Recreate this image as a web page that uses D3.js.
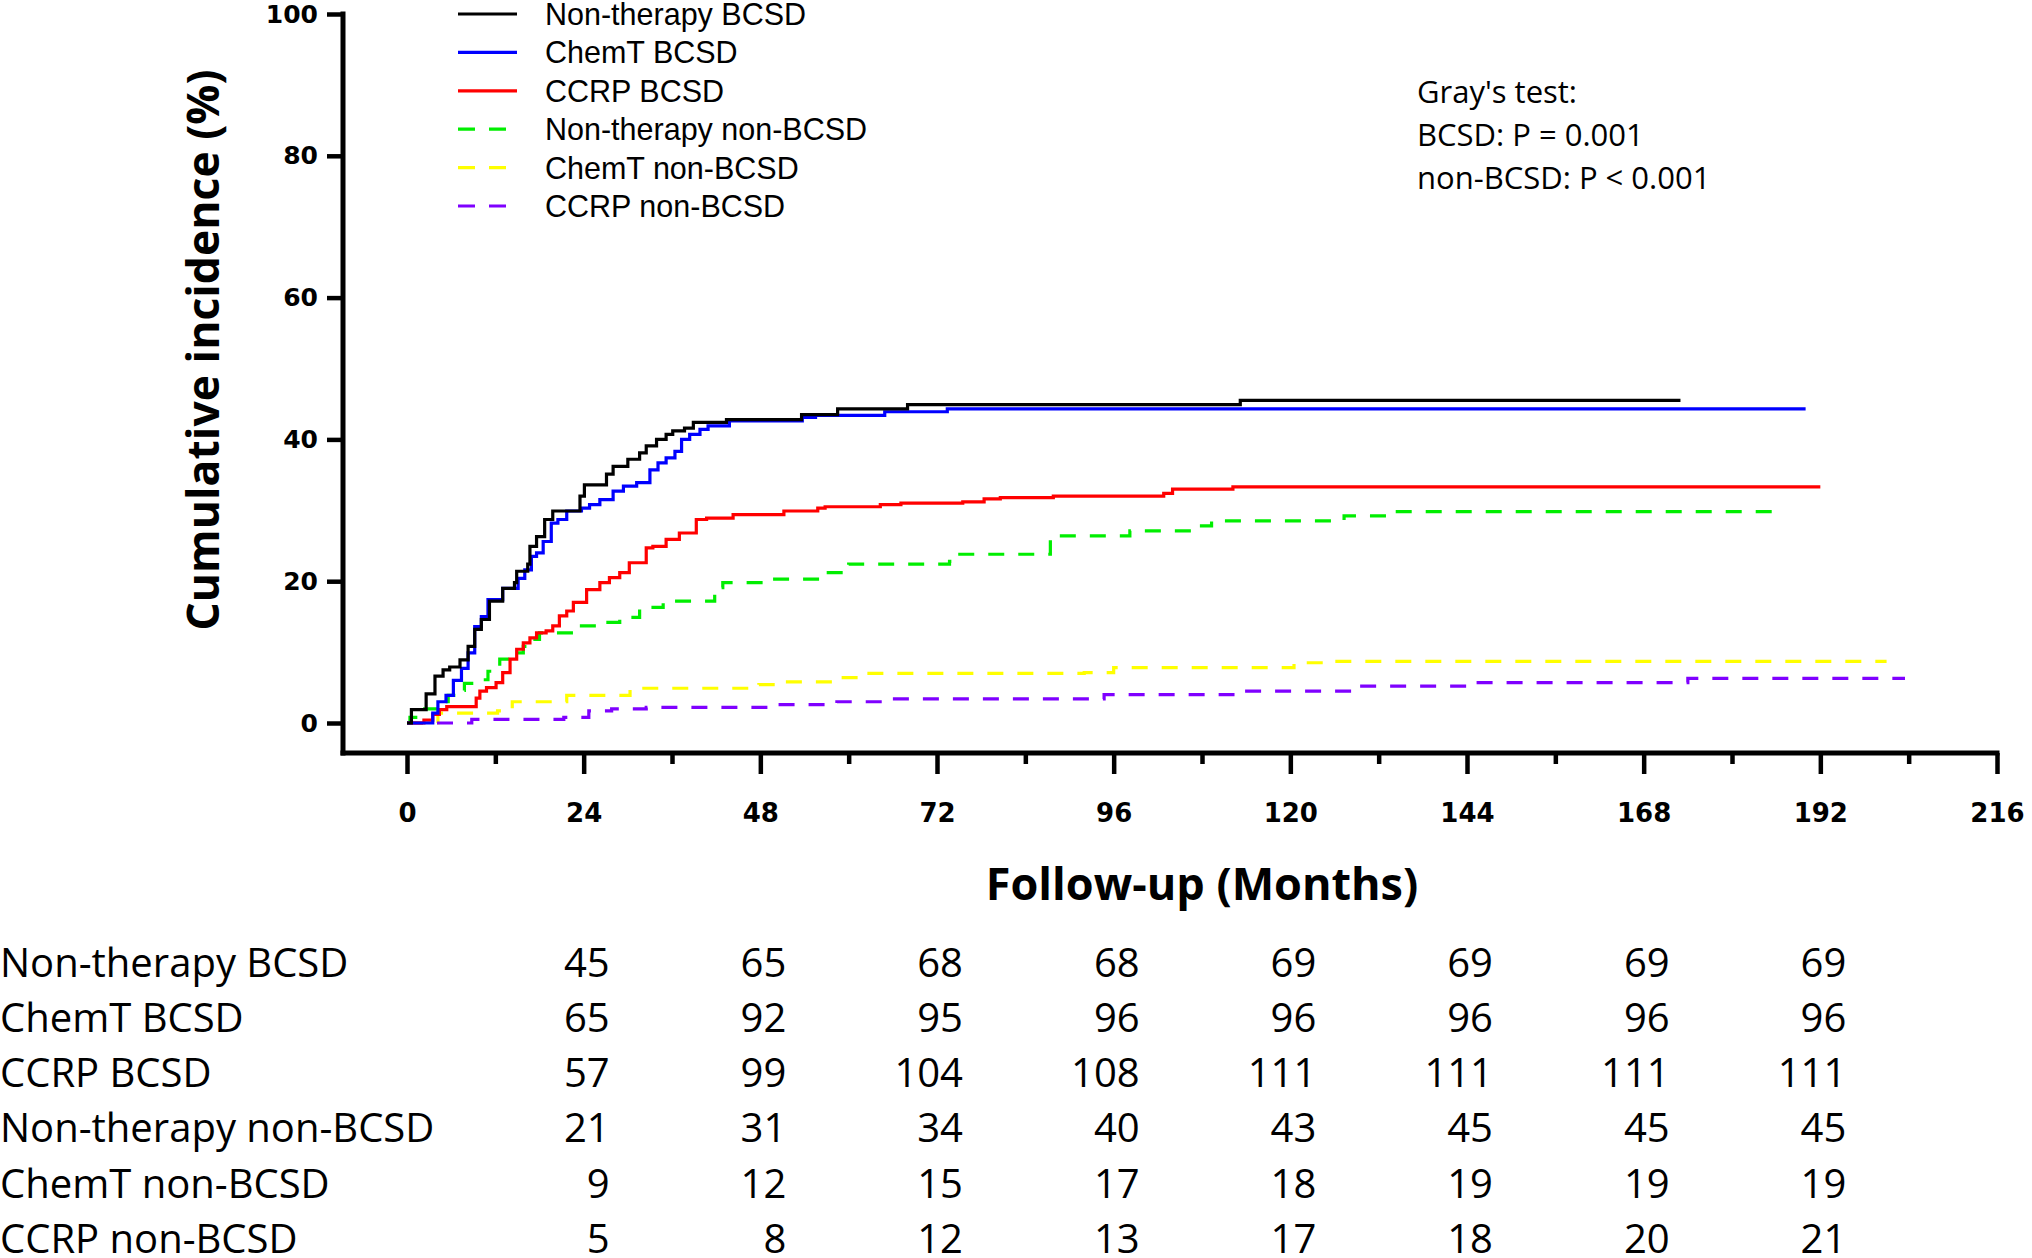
<!DOCTYPE html>
<html>
<head>
<meta charset="utf-8">
<script src="https://cdn.jsdelivr.net/npm/d3@7"></script>
<style>
  body { margin: 0; background: #fff; }
  svg { display: block; }
</style>
</head>
<body>
<div id="chart"></div>
<script>
// Cumulative incidence curves, [month, percent] step points
const nonTherapyBCSD = [[0,0],[0.6,1.9],[2.6,4.1],[3.8,6.6],[4.9,7.5],[5.8,7.9],[7.2,8.9],[8.3,10.8],[9.2,13.2],[10.1,14.6],[11.2,17.2],[13.0,19.0],[14.6,19.8],[14.9,21.4],[16.4,22.4],[16.7,24.9],[17.6,26.3],[18.7,28.7],[19.8,29.9],[23.5,32.0],[24.1,33.6],[27.1,35.1],[28.0,36.2],[30.0,37.2],[31.6,38.1],[32.5,39.1],[33.9,40.0],[35.2,40.7],[36.1,41.2],[37.7,41.6],[38.9,42.4],[43.4,42.8],[53.6,43.5],[58.5,44.3],[68.0,44.9],[113.2,45.5],[173,45.5]];
const chemTBCSD = [[0,0],[3.5,1.4],[4.2,3.0],[5.3,3.9],[6.3,6.0],[7.4,7.7],[8.3,9.9],[9.2,13.6],[10.1,15.0],[11.0,17.4],[13.0,19.0],[15.1,20.4],[16.0,21.6],[16.9,23.5],[17.6,24.0],[18.5,25.6],[19.6,28.2],[20.5,28.7],[21.7,29.9],[23.7,30.3],[24.8,30.8],[26.2,31.5],[28.0,32.7],[29.4,33.4],[31.2,33.9],[33.0,35.7],[34.1,36.7],[35.2,37.4],[36.4,38.3],[37.3,40.0],[38.4,40.7],[39.8,41.4],[40.9,41.9],[43.8,42.6],[53.7,43.1],[55.5,43.4],[64.9,43.9],[73.4,44.3],[190,44.3]];
const ccrpBCSD = [[0,0],[2.3,0.4],[3.5,1.2],[4.4,1.9],[5.4,2.3],[9.4,3.5],[9.9,4.5],[10.8,5.0],[12.1,5.7],[13.0,7.1],[14.0,9.0],[14.9,10.4],[15.8,11.3],[16.7,12.0],[17.6,12.7],[18.9,13.0],[19.8,13.7],[20.7,15.1],[21.7,15.8],[22.6,17.0],[24.4,18.8],[26.2,19.8],[27.5,20.5],[28.9,21.2],[30.2,22.6],[32.5,24.7],[33.4,24.9],[35.2,25.9],[37.0,26.8],[39.3,28.7],[40.7,28.9],[44.3,29.4],[51.2,29.9],[55.8,30.3],[56.8,30.5],[64.3,30.8],[67.1,31.0],[75.5,31.2],[78.4,31.6],[80.6,31.8],[87.8,32.0],[102.8,32.4],[104,33.0],[112.2,33.3],[192,33.3]];
const nonTherapyNonBCSD = [[0,0],[0.4,0.8],[2.4,2.0],[4.2,3.0],[5.6,3.9],[6.7,4.6],[7.8,5.6],[9.4,6.1],[11.0,7.3],[12.6,9.0],[14.0,9.9],[15.8,10.8],[16.7,11.8],[18.0,12.7],[22.6,13.0],[23.7,13.7],[26.2,14.2],[28.9,14.9],[31.6,16.3],[34.8,17.2],[41.8,19.1],[42.9,19.8],[49.0,20.3],[56.9,21.2],[60.0,22.4],[73.7,22.8],[75.1,23.8],[87.4,26.4],[98.2,27.1],[106.5,27.8],[109.3,28.5],[127.3,29.2],[133.7,29.8],[185.5,29.8]];
const chemTNonBCSD = [[0,0],[4.2,1.4],[12.3,1.7],[14.3,3.0],[21.7,3.9],[30.3,4.9],[47.8,5.4],[50.8,5.8],[58.6,6.4],[62.2,7.0],[92.0,7.1],[96.0,7.8],[120.5,8.5],[124.9,8.7],[201,8.7]];
const ccrpNonBCSD = [[0,0],[8.8,0.5],[21.3,0.8],[24.7,1.7],[27.8,2.0],[32.5,2.2],[50.0,2.6],[58.4,3.0],[66.0,3.4],[94.7,4.0],[112.2,4.5],[128.5,5.2],[145.3,5.7],[174,6.3],[203.5,6.3]];

const seriesNames = ["Non-therapy BCSD", "ChemT BCSD", "CCRP BCSD", "Non-therapy non-BCSD", "ChemT non-BCSD", "CCRP non-BCSD"];
const seriesData = [nonTherapyBCSD, chemTBCSD, ccrpBCSD, nonTherapyNonBCSD, chemTNonBCSD, ccrpNonBCSD];
const seriesColors = ["#000000", "#0000ff", "#ff0000", "#00ee00", "#ffff00", "#7f00ff"];
const seriesDashed = [false, false, false, true, true, true];

// Axis ticks
const yTicks = [0, 20, 40, 60, 80, 100];
const xTicks = [0, 12, 24, 36, 48, 60, 72, 84, 96, 108, 120, 132, 144, 156, 168, 180, 192, 204, 216];
const xLabelTicks = [0, 24, 48, 72, 96, 120, 144, 168, 192, 216];

// Number at risk / events table
const tableTimes = [24, 48, 72, 96, 120, 144, 168, 192];
const countsNonTherapyBCSD = [45, 65, 68, 68, 69, 69, 69, 69];
const countsChemTBCSD = [65, 92, 95, 96, 96, 96, 96, 96];
const countsCcrpBCSD = [57, 99, 104, 108, 111, 111, 111, 111];
const countsNonTherapyNonBCSD = [21, 31, 34, 40, 43, 45, 45, 45];
const countsChemTNonBCSD = [9, 12, 15, 17, 18, 19, 19, 19];
const countsCcrpNonBCSD = [5, 8, 12, 13, 17, 18, 20, 21];
const tableCounts = [countsNonTherapyBCSD, countsChemTBCSD, countsCcrpBCSD, countsNonTherapyNonBCSD, countsChemTNonBCSD, countsCcrpNonBCSD];

const grayLines = ["Gray's test:", "BCSD: P = 0.001", "non-BCSD: P < 0.001"];

// Canvas
const W = 2032, H = 1258;
const svg = d3.select("#chart").append("svg").attr("width", W).attr("height", H);

// Scales
const x = d3.scaleLinear().domain([0, 216]).range([407, 1997]);
const y = d3.scaleLinear().domain([0, 100]).range([723, 14]);
const yAxisX = 343, xAxisY = 753;

// Y axis
const gy = svg.append("g")
  .attr("transform", `translate(${yAxisX},0)`)
  .call(d3.axisLeft(y).tickValues(yTicks).tickSize(16).tickPadding(9).tickSizeOuter(0));
gy.select(".domain").remove();
gy.selectAll(".tick line").attr("stroke", "#000").attr("stroke-width", 4.5);
gy.selectAll(".tick text")
  .attr("fill", "#000")
  .style("font-family", "'DejaVu Sans', sans-serif")
  .style("font-weight", "bold")
  .style("font-size", "25px");
svg.append("line")
  .attr("x1", yAxisX).attr("x2", yAxisX)
  .attr("y1", y(100) - 2.5).attr("y2", xAxisY + 2.5)
  .attr("stroke", "#000").attr("stroke-width", 5);

// X axis
const gx = svg.append("g")
  .attr("transform", `translate(0,${xAxisY})`)
  .call(d3.axisBottom(x).tickValues(xTicks).tickSizeOuter(0)
    .tickFormat((d) => (xLabelTicks.includes(d) ? d : "")));
gx.select(".domain").remove();
gx.selectAll(".tick line")
  .attr("stroke", "#000").attr("stroke-width", 4.5)
  .attr("y2", (d) => (xLabelTicks.includes(d) ? 21 : 11));
gx.selectAll(".tick text")
  .attr("fill", "#000")
  .attr("y", 69).attr("dy", 0)
  .style("font-family", "'DejaVu Sans', sans-serif")
  .style("font-weight", "bold")
  .style("font-size", "26px");
svg.append("line")
  .attr("x1", yAxisX - 2.5).attr("x2", x(216) + 2.5)
  .attr("y1", xAxisY).attr("y2", xAxisY)
  .attr("stroke", "#000").attr("stroke-width", 5);

// Axis titles
svg.append("text")
  .attr("transform", `translate(219,350) rotate(-90)`)
  .attr("text-anchor", "middle")
  .style("font-family", "'Open Sans', sans-serif")
  .style("font-weight", "bold")
  .style("font-size", "44.5px")
  .text("Cumulative incidence (%)");

svg.append("text")
  .attr("x", 1202).attr("y", 900)
  .attr("text-anchor", "middle")
  .style("font-family", "'Open Sans', sans-serif")
  .style("font-weight", "bold")
  .style("font-size", "45px")
  .text("Follow-up (Months)");

// Curves
const line = d3.line()
  .x((d) => x(d[0]))
  .y((d) => y(d[1]))
  .curve(d3.curveStepAfter);

// draw dashed ones first so the solid ones sit on top
[3, 4, 5, 2, 1, 0].forEach((i) => {
  svg.append("path")
    .datum(seriesData[i])
    .attr("d", line)
    .attr("fill", "none")
    .attr("stroke", seriesColors[i])
    .attr("stroke-width", 3.2)
    .attr("stroke-dasharray", seriesDashed[i] ? "16,14" : null);
});

// Legend
const legendY = [14, 52.4, 90.8, 129.2, 167.6, 206];
const legend = svg.append("g");
seriesNames.forEach((name, i) => {
  legend.append("line")
    .attr("x1", 458).attr("x2", 517)
    .attr("y1", legendY[i]).attr("y2", legendY[i])
    .attr("stroke", seriesColors[i])
    .attr("stroke-width", 3.2)
    .attr("stroke-dasharray", seriesDashed[i] ? "17,14" : null);
  legend.append("text")
    .attr("x", 545).attr("y", legendY[i] + 11)
    .style("font-family", "'Liberation Sans', Arial, sans-serif")
    .style("font-size", "30.5px")
    .text(name);
});

// Gray's test annotation
grayLines.forEach((t, i) => {
  svg.append("text")
    .attr("x", 1417).attr("y", 103 + i * 43)
    .style("font-family", "'Open Sans', sans-serif")
    .style("font-size", "31px")
    .text(t);
});

// Table under the chart
const rowY = [977, 1032, 1087, 1142, 1198, 1253];
const table = svg.append("g");
seriesNames.forEach((name, r) => {
  table.append("text")
    .attr("x", 0).attr("y", rowY[r])
    .style("font-family", "'Open Sans', sans-serif")
    .style("font-size", "40px")
    .text(name);
  table.selectAll(null)
    .data(tableCounts[r])
    .enter()
    .append("text")
    .attr("x", (d, j) => x(tableTimes[j]) + 26)
    .attr("y", rowY[r])
    .attr("text-anchor", "end")
    .style("font-family", "'Open Sans', sans-serif")
    .style("font-size", "40px")
    .text((d) => d);
});
</script>
</body>
</html>
